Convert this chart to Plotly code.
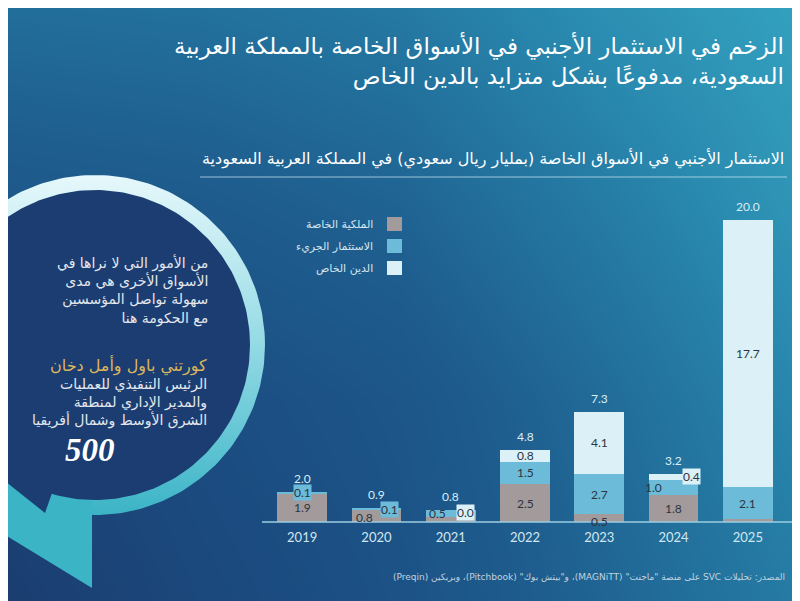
import numpy as np
import plotly.graph_objects as go

# data (billion SAR)
years = ["2019", "2020", "2021", "2022", "2023", "2024", "2025"]
private_equity = [1.9, 0.8, 0.3, 2.5, 0.5, 1.8, 0.2]
venture_capital = [0.1, 0.1, 0.5, 1.5, 2.7, 1.0, 2.1]
private_debt = [0.0, 0.0, 0.0, 0.8, 4.1, 0.4, 17.7]

series_names = ["الملكية الخاصة", "الاستثمار الجريء", "الدين الخاص"]
series_colors = ["#a29a9b", "#6cbbd9", "#dcf0f7"]

title_lines = [
    "الزخم في الاستثمار الأجنبي في الأسواق الخاصة بالمملكة العربية",
    "السعودية، مدفوعًا بشكل متزايد بالدين الخاص",
]
subtitle = "الاستثمار الأجنبي في الأسواق الخاصة (بمليار ريال سعودي) في المملكة العربية السعودية"
quote_lines = [
    "من الأمور التي لا نراها في",
    "الأسواق الأخرى هي مدى",
    "سهولة تواصل المؤسسين",
    "مع الحكومة هنا",
]
speaker = "كورتني باول وأمل دخان"
role_lines = [
    "الرئيس التنفيذي للعمليات",
    "والمدير الإداري لمنطقة",
    "الشرق الأوسط وشمال أفريقيا",
]
source = "المصدر: تحليلات SVC على منصة \"ماجنت\" (MAGNiTT)، و\"بيتش بوك\" (Pitchbook)، وبريكين (Preqin)"

# labels not printed in the original and small nudges for crowded ones
hidden = {(0, "2021"), (0, "2025"), (2, "2019"), (2, "2020")}
nudge = {
    (0, "2020"): (-12, -2),
    (1, "2020"): (13, 0),
    (1, "2021"): (-13, 0),
    (2, "2021"): (15, -3),
    (0, "2023"): (0, -3),
    (1, "2024"): (-20, 0),
    (2, "2024"): (18, 0),
}

AR = "DejaVu Sans"
NUM = "Lato"

# the page body has an 8px margin, so the figure is 792x593 placed at (8, 8);
# the overlay axes below use window pixel coordinates
W, H, OFF = 792, 593, 8


def px_x(v):
    return (v - OFF) / W


def px_y(v):
    return (OFF + H - v) / H


fig = go.Figure()

# background gradient
bg_x = [8, 200, 400, 600, 800]
bg_y = [8, 200, 400, 601]
bg_z = [
    [0.62, 0.64, 0.70, 0.85, 0.97],
    [0.45, 0.48, 0.55, 0.72, 0.90],
    [0.20, 0.32, 0.42, 0.60, 0.80],
    [0.05, 0.25, 0.38, 0.55, 0.72],
]
fig.add_trace(go.Heatmap(
    x=bg_x, y=bg_y, z=bg_z, zmin=0, zmax=1, zsmooth="best", showscale=False,
    hoverinfo="skip",
    colorscale=[[0, "#1b3a6c"], [0.3, "#1b4b80"], [0.5, "#1e5d8e"],
                [0.75, "#2680a8"], [1, "#35a5c2"]],
))

# speech bubble: gradient ring, tail, navy inside
cx, cy, r_out, r_in = 95, 345, 170, 155
t = np.linspace(0, 2 * np.pi, 241)
fig.add_trace(go.Scatter(
    x=cx + r_out * np.cos(t), y=cy + r_out * np.sin(t), mode="lines",
    line=dict(width=0), fill="toself", hoverinfo="skip",
    fillgradient=dict(type="vertical", start=175, stop=515,
                      colorscale=[[0, "#e6f8fb"], [0.5, "#93dae5"], [1, "#3bb4c6"]]),
))
fig.add_trace(go.Scatter(
    x=[0, 60, 92, 92, 0, 0], y=[455, 470, 498, 588, 532, 455], mode="lines",
    line=dict(width=0), fill="toself", fillcolor="#3bb4c6", hoverinfo="skip",
))
fig.add_trace(go.Scatter(
    x=cx + r_in * np.cos(t), y=cy + r_in * np.sin(t), mode="lines",
    line=dict(width=0), fill="toself", fillcolor="#1b3d71", hoverinfo="skip",
))
fig.add_trace(go.Scatter(
    x=[0, 0, 45, 52, 30, 0], y=[460, 477, 513, 493, 475, 460], mode="lines",
    line=dict(width=0), fill="toself", fillcolor="#1b3d71", hoverinfo="skip",
))

# stacked bars
stacks = [private_equity, venture_capital, private_debt]
for name, vals, col in zip(series_names, stacks, series_colors):
    fig.add_trace(go.Bar(
        x=years, y=vals, name=name, marker=dict(color=col, line=dict(width=0)),
        xaxis="x2", yaxis="y2", hoverinfo="skip",
    ))

annotations = []
base = [0.0] * len(years)
for si, vals in enumerate(stacks):
    for i, (yr, v) in enumerate(zip(years, vals)):
        if (si, yr) not in hidden:
            dx, dy = nudge.get((si, yr), (0, 0))
            ann = dict(
                x=i, y=base[i] + v / 2, xref="x2", yref="y2", text=f"{v:.1f}",
                showarrow=False, xshift=dx, yshift=dy, borderpad=0,
                font=dict(family=NUM, size=12, color="#2b3440"),
            )
            if v < 0.45:
                ann["bgcolor"] = series_colors[si]
            annotations.append(ann)
        base[i] += v
for i, tot in enumerate(base):
    annotations.append(dict(
        x=i, y=tot, xref="x2", yref="y2", text=f"{tot:.1f}", showarrow=False,
        yanchor="bottom", yshift=4, font=dict(family=NUM, size=12, color="#d9eef6"),
    ))

# legend drawn to the left of the swatches (right-to-left layout)
shapes = []
for k, (name, col) in enumerate(zip(series_names, series_colors)):
    yc = 224 + 22 * k
    shapes.append(dict(type="rect", xref="x", yref="y", x0=387, x1=402,
                       y0=yc - 7, y1=yc + 7, fillcolor=col, line=dict(width=0)))
    annotations.append(dict(x=375, y=yc, xref="x", yref="y", text=name, showarrow=False,
                            xanchor="right", font=dict(family=AR, size=11, color="#d4e6ef")))

# baseline and rule under subtitle
shapes.append(dict(type="line", xref="x", yref="y", x0=262, x1=792, y0=522, y1=522,
                   line=dict(color="#9ccde0", width=1.5)))
shapes.append(dict(type="line", xref="x", yref="y", x0=200, x1=787, y0=177, y1=177,
                   line=dict(color="rgba(210,235,245,0.7)", width=1)))

annotations += [
    dict(x=786, y=61, xref="x", yref="y", text="<br>".join(title_lines), showarrow=False,
         xanchor="right", align="right", font=dict(family=AR, size=23, color="white")),
    dict(x=786, y=158, xref="x", yref="y", text=subtitle, showarrow=False,
         xanchor="right", font=dict(family=AR, size=16, color="white")),
    dict(x=210, y=290, xref="x", yref="y", text="<br>".join(quote_lines), showarrow=False,
         xanchor="right", align="right", font=dict(family=AR, size=14, color="#e3e8ee")),
    dict(x=209, y=365, xref="x", yref="y", text=speaker, showarrow=False,
         xanchor="right", font=dict(family=AR, size=16, color="#dcb65c")),
    dict(x=209, y=402, xref="x", yref="y", text="<br>".join(role_lines), showarrow=False,
         xanchor="right", align="right", font=dict(family=AR, size=14, color="#e3e8ee")),
    dict(x=90, y=450, xref="x", yref="y", text="<b><i>500</i></b>", showarrow=False,
         font=dict(family="Liberation Serif", size=33, color="white")),
    dict(x=787, y=577, xref="x", yref="y", text="\u202b" + source + "\u202c", showarrow=False,
         xanchor="right", font=dict(family=AR, size=9, color="#c0d3df")),
]

fig.update_layout(
    width=W, height=H, margin=dict(l=0, r=0, t=0, b=0),
    paper_bgcolor="#1d5a8c", plot_bgcolor="rgba(0,0,0,0)",
    showlegend=False, barmode="stack", bargap=0.33,
    xaxis=dict(domain=[0, 1], range=[OFF, OFF + W], visible=False),
    yaxis=dict(domain=[0, 1], range=[OFF + H, OFF], visible=False),
    xaxis2=dict(domain=[px_x(265), px_x(785)], anchor="y2", type="category",
                range=[-0.5, 6.5], showgrid=False, showline=False, zeroline=False,
                ticks="", ticklabelstandoff=6,
                tickfont=dict(family=NUM, size=13, color="#d3e7ef")),
    yaxis2=dict(domain=[px_y(522), px_y(205)], anchor="x2", range=[0, 21], visible=False),
    shapes=shapes, annotations=annotations,
)

fig.write_html("out.html")
